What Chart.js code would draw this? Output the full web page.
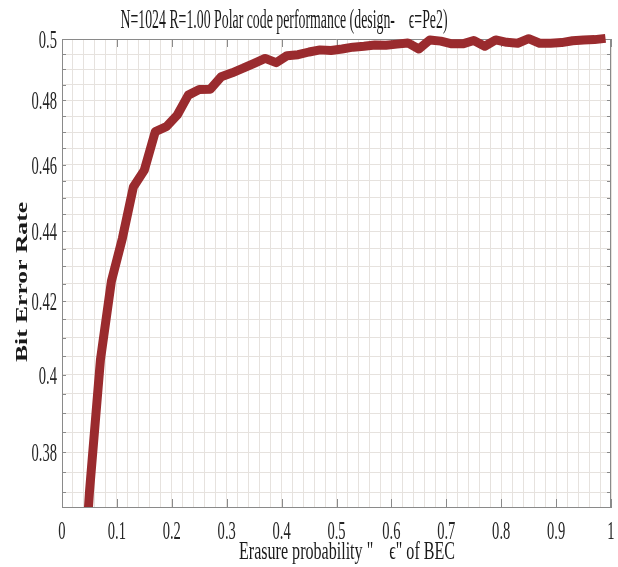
<!DOCTYPE html>
<html>
<head>
<meta charset="utf-8">
<script src="https://cdn.jsdelivr.net/npm/chart.js@4/dist/chart.umd.min.js"></script>
<style>
  html, body { margin: 0; padding: 0; background: #fff; }
  #wrap { position: relative; width: 618px; height: 567px; }
</style>
</head>
<body>
<div id="wrap"><canvas id="berChart"></canvas></div>
<script>
// Erasure probability of the BEC (x) and the measured bit error rate (y)
const erasureProb = [0.03, 0.05, 0.07, 0.09, 0.11, 0.13, 0.15, 0.17, 0.19, 0.21,
                     0.23, 0.25, 0.27, 0.29, 0.31, 0.33, 0.35, 0.37, 0.39, 0.41,
                     0.43, 0.45, 0.47, 0.49, 0.51, 0.53, 0.55, 0.57, 0.59, 0.61,
                     0.63, 0.65, 0.67, 0.69, 0.71, 0.73, 0.75, 0.77, 0.79, 0.81,
                     0.83, 0.85, 0.87, 0.89, 0.91, 0.93, 0.95, 0.97, 0.99];
const bitErrorRate = [0.330, 0.370, 0.404, 0.4257, 0.438, 0.4532, 0.4583, 0.4702, 0.4717, 0.4754,
                      0.4817, 0.4835, 0.4836, 0.4876, 0.4889, 0.4904, 0.4920, 0.4936, 0.4922, 0.4945,
                      0.4948, 0.4957, 0.4964, 0.4962, 0.4967, 0.4973, 0.4976, 0.4980, 0.4979, 0.4983,
                      0.4987, 0.4967, 0.4997, 0.4993, 0.4984, 0.4984, 0.4995, 0.4976, 0.4997, 0.4989,
                      0.4986, 0.5001, 0.4986, 0.4986, 0.4988, 0.4994, 0.4997, 0.4998, 0.5002];

// axis ticks
const xLabelTicks = [0, 0.1, 0.2, 0.3, 0.4, 0.5, 0.6, 0.7, 0.8, 0.9, 1];
const yLabelTicks = [0.38, 0.4, 0.42, 0.44, 0.46, 0.48, 0.5];
const xGridStep = 0.02;
const yGridStep = 0.005;

const titleText = 'N=1024 R=1.00 Polar code performance (design-    \u03F5=Pe2)';
const xTitleText = 'Erasure probability "    \u03F5" of BEC';
const yTitleText = 'Bit Error Rate';

const tickFont = '26px "Liberation Serif"';
const tickSqueeze = 0.56;

function gridValues(min, max, step) {
    const out = [];
    for (let i = Math.ceil(min / step - 1e-9); i * step <= max + 1e-9; i++) {
        out.push(Math.round(i * step * 10000) / 10000);
    }
    return out;
}

// draws a horizontally squeezed text so it fits a given width
function squeezedText(ctx, text, cx, cy, width, font, rotate) {
    ctx.save();
    ctx.font = font;
    const sx = width / ctx.measureText(text).width;
    ctx.translate(cx, cy);
    if (rotate) ctx.rotate(-Math.PI / 2);
    ctx.scale(sx, 1);
    ctx.textAlign = 'center';
    ctx.textBaseline = 'alphabetic';
    ctx.fillStyle = '#1a1a1a';
    ctx.fillText(text, 0, 0);
    ctx.restore();
}

// tick label drawn with a fixed horizontal squeeze
function tickLabel(ctx, text, x, y, align) {
    ctx.save();
    ctx.font = tickFont;
    ctx.translate(x, y);
    ctx.scale(tickSqueeze, 1);
    ctx.textAlign = align;
    ctx.textBaseline = 'alphabetic';
    ctx.fillStyle = '#262626';
    ctx.fillText(text, 0, 0);
    ctx.restore();
}

const frameAndText = {
    id: 'frameAndText',
    beforeDatasetsDraw(chart) {
        const { ctx, chartArea: a, scales: { x, y } } = chart;
        ctx.save();
        ctx.strokeStyle = '#8a8a8a';
        ctx.lineWidth = 1;
        ctx.beginPath();
        // top and right frame
        ctx.moveTo(a.left, a.top + 0.5);
        ctx.lineTo(a.right, a.top + 0.5);
        ctx.moveTo(a.right - 0.5, a.top);
        ctx.lineTo(a.right - 0.5, a.bottom);
        // inward ticks on the x axis (bottom and top)
        for (const v of xLabelTicks) {
            const px = Math.round(x.getPixelForValue(v)) + 0.5;
            ctx.moveTo(px, a.bottom);
            ctx.lineTo(px, a.bottom - 8);
            ctx.moveTo(px, a.top);
            ctx.lineTo(px, a.top + 8);
        }
        // inward ticks on the y axis (left and right)
        for (const t of y.ticks) {
            const py = Math.round(y.getPixelForValue(t.value)) + 0.5;
            ctx.moveTo(a.left, py);
            ctx.lineTo(a.left + 4, py);
            ctx.moveTo(a.right, py);
            ctx.lineTo(a.right - 4, py);
        }
        ctx.stroke();
        ctx.restore();
    },
    afterDraw(chart) {
        const { ctx, chartArea: a, scales: { x, y } } = chart;
        for (const v of xLabelTicks) {
            tickLabel(ctx, String(v), x.getPixelForValue(v), a.bottom + 32, 'center');
        }
        for (const v of yLabelTicks) {
            tickLabel(ctx, String(v), a.left - 5, y.getPixelForValue(v) + 9, 'right');
        }
        squeezedText(ctx, titleText, 284, 28, 327, '27px "Liberation Serif"', false);
        squeezedText(ctx, xTitleText, 347, 559, 216, '26px "Liberation Serif"', false);
        squeezedText(ctx, yTitleText, 27, 282, 160, 'bold 16px "Liberation Serif"', true);
    }
};

const canvas = document.getElementById('berChart');
new Chart(canvas.getContext('2d'), {
    type: 'line',
    data: {
        datasets: [{
            data: erasureProb.map((e, i) => ({ x: e, y: bitErrorRate[i] })),
            borderColor: '#9a2b2e',
            borderWidth: 9,
            borderJoinStyle: 'round',
            pointRadius: 0,
            tension: 0,
            fill: false,
            clip: { left: 0, top: 8, right: 8, bottom: 0 }
        }]
    },
    options: {
        responsive: true,
        maintainAspectRatio: false,
        animation: false,
        layout: { padding: { left: 0, top: 39, right: 7, bottom: 0 } },
        plugins: {
            legend: { display: false },
            title: { display: false },
            tooltip: { enabled: false }
        },
        scales: {
            x: {
                type: 'linear',
                min: 0,
                max: 1,
                afterBuildTicks: s => { s.ticks = gridValues(0, 1, xGridStep).map(v => ({ value: v })); },
                afterFit: s => { s.height = 60; s.paddingLeft = 0; s.paddingRight = 0; },
                grid: { color: '#e6e2de', drawTicks: false },
                border: { color: '#8a8a8a' },
                ticks: { display: false, autoSkip: false }
            },
            y: {
                type: 'logarithmic',
                min: 0.3664,
                max: 0.5,
                afterBuildTicks: s => { s.ticks = gridValues(0.3664, 0.5, yGridStep).map(v => ({ value: v })); },
                afterFit: s => { s.width = 62; s.paddingTop = 0; s.paddingBottom = 0; },
                grid: { color: '#e6e2de', drawTicks: false },
                border: { color: '#8a8a8a' },
                ticks: { display: false, autoSkip: false }
            }
        }
    },
    plugins: [frameAndText]
});
</script>
</body>
</html>
